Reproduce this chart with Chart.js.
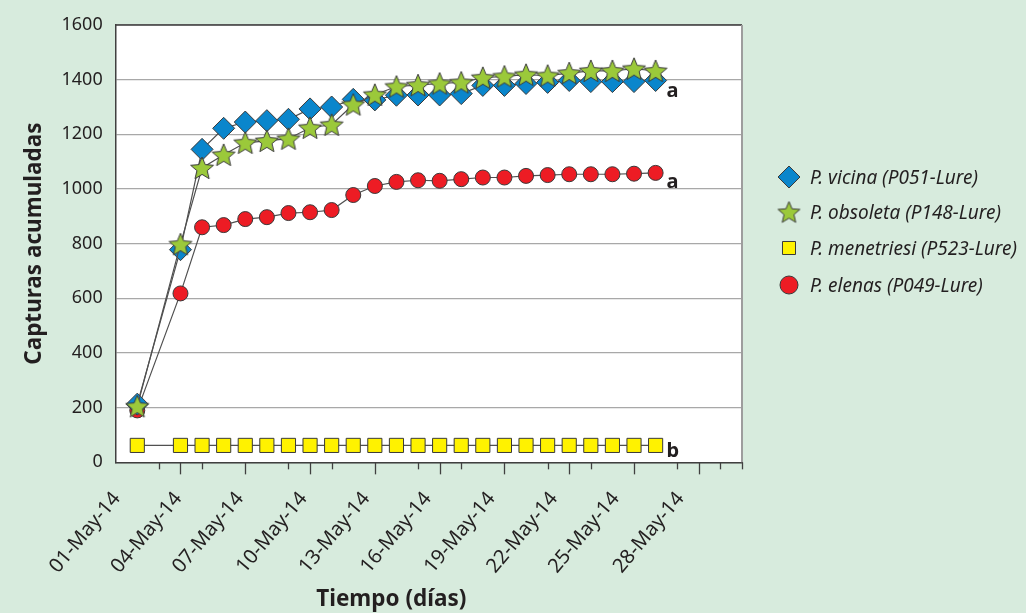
<!DOCTYPE html>
<html>
<head>
<meta charset="utf-8">
<script src="https://cdn.jsdelivr.net/npm/chart.js@4/dist/chart.umd.min.js"></script>
<style>
  html, body { margin: 0; padding: 0; background: #d7ebdd; }
  #wrap { position: relative; width: 1026px; height: 613px; }
  #c { position: absolute; left: 0; top: 0; }
  #legend { position: absolute; left: 0; top: 0; width: 1026px; height: 613px; pointer-events: none; }
  .lg-row { position: absolute; height: 26px; display: flex; align-items: center; white-space: nowrap;
            font-family: "Noto Sans", "Open Sans", sans-serif; font-style: italic; font-size: 19px; color: #231f20; }
  .lg-row canvas { display: block; }
  .lg-row span { margin-left: 8px; line-height: 26px; }
</style>
</head>
<body>
<div id="wrap"><canvas id="c" width="1026" height="613"></canvas><div id="legend"></div></div>
<script>
// ---- data (day of May 2014) ----
const days = [2, 4, 5, 6, 7, 8, 9, 10, 11, 12, 13, 14, 15, 16, 17, 18, 19, 20, 21, 22, 23, 24, 25, 26];
const seriesNames = [
  'P. vicina (P051-Lure)',
  'P. obsoleta (P148-Lure)',
  'P. menetriesi (P523-Lure)',
  'P. elenas (P049-Lure)'
];
const vicina     = [213, 778, 1145, 1222, 1245, 1250, 1255, 1293, 1300, 1328, 1326, 1343, 1344, 1344, 1349, 1379, 1379, 1386, 1390, 1397, 1393, 1393, 1393, 1397];
const obsoleta   = [205, 798, 1077, 1125, 1169, 1176, 1184, 1224, 1235, 1309, 1345, 1375, 1380, 1386, 1390, 1407, 1412, 1418, 1415, 1424, 1432, 1432, 1440, 1432];
const menetriesi = [62, 62, 62, 62, 62, 62, 62, 62, 62, 62, 62, 62, 62, 62, 62, 62, 62, 62, 62, 62, 62, 62, 62, 62];
const elenas     = [190, 618, 860, 868, 890, 897, 912, 915, 923, 978, 1011, 1026, 1032, 1030, 1036, 1042, 1042, 1048, 1051, 1054, 1054, 1054, 1056, 1059];
const groupLetters = ['a', '', 'b', 'a'];

// tick labels and where they sit on the day axis
const xTickLabels = ['01-May-14', '04-May-14', '07-May-14', '10-May-14', '13-May-14',
                     '16-May-14', '19-May-14', '22-May-14', '25-May-14', '28-May-14'];
const xLabelDays  = [1.05, 3.9, 6.75, 9.7, 12.6, 15.45, 18.4, 21.3, 24.15, 27.15];
const xMajorTickDays = [4, 7, 10, 13, 16, 19, 22, 25, 28];
const xMinorTickDays = [3, 5, 9, 11, 15, 17, 21, 23, 27, 29, 30];
const xMin = 1, xMax = 30;
const yMin = 0, yMax = 1600, yStep = 200;
const xTitle = 'Tiempo (días)';
const yTitle = 'Capturas acumuladas';

// ---- styles ----
const FONT = '"Noto Sans", "Open Sans", sans-serif';
const TXT = '#231f20';
const LINE = '#505050';
const MARK_EDGE = '#3a3a3a';

function makeStar(size, fill) {
  const c = document.createElement('canvas');
  c.width = size; c.height = size;
  const g = c.getContext('2d');
  const cx = size / 2, cy = size / 2 + 1;
  const R = size / 2 - 1, r = R * 0.45;
  g.beginPath();
  for (let k = 0; k < 10; k++) {
    const ang = -Math.PI / 2 + k * Math.PI / 5;
    const rad = k % 2 === 0 ? R : r;
    const px = cx + rad * Math.cos(ang), py = cy + rad * Math.sin(ang);
    if (k === 0) g.moveTo(px, py); else g.lineTo(px, py);
  }
  g.closePath();
  g.fillStyle = fill; g.fill();
  g.lineWidth = 1; g.strokeStyle = MARK_EDGE; g.stroke();
  return c;
}
const starImg = makeStar(26, '#9bc93a');
const starImgLegend = makeStar(25, '#9bc93a');

const toXY = arr => arr.map((v, i) => ({ x: days[i], y: v }));

const seriesStyle = [
  { data: vicina,     pointStyle: 'rectRot', pointRadius: 11,  legendStyle: 'rectRot', legendRadius: 11,  bg: '#0a86cc', order: 1 },
  { data: obsoleta,   pointStyle: starImg,   pointRadius: 12,  legendStyle: starImgLegend, legendRadius: 12, bg: '#9bc93a', order: 0 },
  { data: menetriesi, pointStyle: 'rect',    pointRadius: 10,  legendStyle: 'rect',    legendRadius: 9.2, bg: '#fff200', order: 3 },
  { data: elenas,     pointStyle: 'circle',  pointRadius: 7.5, legendStyle: 'circle',  legendRadius: 9,   bg: '#ed1c24', order: 2 }
];

const datasets = seriesStyle.map((s, i) => ({
  label: seriesNames[i],
  data: toXY(s.data),
  order: s.order,
  borderColor: LINE,
  borderWidth: 1.2,
  backgroundColor: s.bg,
  pointStyle: s.pointStyle,
  pointRadius: s.pointRadius,
  pointHoverRadius: s.pointRadius,
  pointBackgroundColor: s.bg,
  pointBorderColor: MARK_EDGE,
  pointBorderWidth: 1,
  tension: 0,
  fill: false
}));

const decor = {
  id: 'decor',
  beforeDraw(chart) {
    const { ctx, chartArea: a } = chart;
    ctx.save();
    ctx.fillStyle = '#d7ebdd';
    ctx.fillRect(0, 0, chart.width, chart.height);
    ctx.fillStyle = '#ffffff';
    ctx.fillRect(a.left, a.top, a.right - a.left, a.bottom - a.top);
    ctx.restore();
  },
  afterDraw(chart) {
    const { ctx, chartArea: a } = chart;
    const x = chart.scales.x;
    ctx.save();
    ctx.lineWidth = 1.5; ctx.strokeStyle = '#3d3d3d';
    ctx.beginPath(); ctx.moveTo(a.left, a.top); ctx.lineTo(a.right, a.top); ctx.stroke();
    ctx.lineWidth = 2; ctx.strokeStyle = '#9d9d9d';
    ctx.beginPath(); ctx.moveTo(a.right, a.top); ctx.lineTo(a.right, a.bottom); ctx.stroke();
    // tick marks (major 12px, minor 7px)
    ctx.lineWidth = 1.3; ctx.strokeStyle = '#404040';
    const tick = (d, len) => {
      const px = Math.round(x.getPixelForValue(d)) + 0.5;
      ctx.beginPath(); ctx.moveTo(px, a.bottom); ctx.lineTo(px, a.bottom + len); ctx.stroke();
    };
    xMajorTickDays.forEach(d => tick(d, 12));
    xMinorTickDays.forEach(d => tick(d, 7));
    // group letters
    const letterDy = [17, 0, 12, 15];
    ctx.fillStyle = TXT;
    ctx.font = 'bold 20px ' + FONT;
    ctx.textAlign = 'left';
    ctx.textBaseline = 'alphabetic';
    chart.data.datasets.forEach((ds, i) => {
      const L = groupLetters[i];
      if (!L) return;
      const meta = chart.getDatasetMeta(i);
      const pt = meta.data[meta.data.length - 1];
      ctx.fillText(L, pt.x + 11, pt.y + letterDy[i]);
    });
    // x axis title
    ctx.font = 'bold 22.5px ' + FONT;
    ctx.textAlign = 'center';
    ctx.fillText(xTitle, a.left + (a.right - a.left) * 0.44, 606);
    ctx.restore();
  }
};

const chart = new Chart(document.getElementById('c'), {
  type: 'line',
  data: { datasets },
  plugins: [decor],
  options: {
    responsive: false,
    animation: false,
    events: [],
    layout: { padding: { left: 7.5, top: 25, right: 284, bottom: 22 } },
    plugins: {
      tooltip: { enabled: false },
      legend: { display: false }
    },
    scales: {
      x: {
        type: 'linear',
        position: 'bottom',
        min: xMin,
        max: xMax,
        afterBuildTicks(scale) { scale.ticks = xLabelDays.map(v => ({ value: v })); },
        ticks: {
          autoSkip: false,
          minRotation: 50,
          maxRotation: 50,
          padding: 13,
          color: TXT,
          font: { family: FONT, size: 20 },
          callback: (v, i) => xTickLabels[i]
        },
        grid: {
          drawOnChartArea: false,
          drawTicks: true,
          tickLength: 12,
          tickColor: 'rgba(0,0,0,0)'
        },
        border: { display: true, color: '#404040', width: 1.5 }
      },
      y: {
        type: 'linear',
        position: 'left',
        min: yMin,
        max: yMax,
        ticks: {
          stepSize: yStep,
          padding: 13,
          color: TXT,
          font: { family: FONT, size: 18 },
          callback: v => String(v)
        },
        grid: { color: '#a8a8a8', lineWidth: 1.3, drawTicks: false },
        border: { display: true, color: '#404040', width: 1.5 },
        title: {
          display: true,
          text: yTitle,
          color: TXT,
          font: { family: FONT, size: 22.5, weight: 'bold' },
          padding: { top: 14, bottom: 0 }
        }
      }
    }
  }
});

// ---- HTML legend built from the chart's datasets ----
(function buildLegend() {
  const host = document.getElementById('legend');
  const rowCenters = [177, 212, 248, 285];
  const markerX = 789;
  chart.data.datasets.forEach((ds, i) => {
    const s = seriesStyle[i];
    const row = document.createElement('div');
    row.className = 'lg-row';
    row.style.left = (markerX - 13) + 'px';
    row.style.top = (rowCenters[i] - 13) + 'px';
    const cv = document.createElement('canvas');
    cv.width = 26; cv.height = 26;
    const g = cv.getContext('2d');
    g.fillStyle = ds.pointBackgroundColor;
    g.strokeStyle = ds.pointBorderColor;
    g.lineWidth = ds.pointBorderWidth;
    Chart.helpers.drawPoint(g, { pointStyle: s.legendStyle, radius: s.legendRadius, rotation: 0, borderWidth: 1 }, 13, 13);
    const sp = document.createElement('span');
    sp.textContent = ds.label;
    row.appendChild(cv);
    row.appendChild(sp);
    host.appendChild(row);
  });
})();
</script>
</body>
</html>
